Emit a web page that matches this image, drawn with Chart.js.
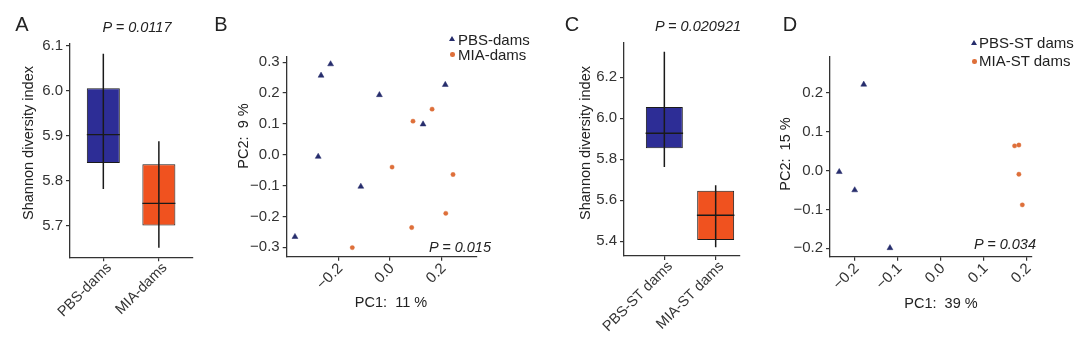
<!DOCTYPE html>
<html>
<head>
<meta charset="utf-8">
<script src="https://cdn.jsdelivr.net/npm/chart.js@4"></script>
<style>
	body { margin: 0; background: #fff; }
	#page { position: relative; width: 1080px; height: 338px; overflow: hidden; background: #fff;
		font-family: "Liberation Sans", Arial, sans-serif; color: #222; }
	#page canvas { position: absolute; top: 0; }
	.txt { position: absolute; white-space: pre; height: 20px; line-height: 20px; }
	.mark { position: absolute; }
</style>
</head>
<body>
<div id="page">
	<canvas id="chartA" width="210" height="338" style="left:0px"></canvas>
	<canvas id="chartB" width="310" height="338" style="left:210px"></canvas>
	<canvas id="chartC" width="220" height="338" style="left:540px"></canvas>
	<canvas id="chartD" width="320" height="338" style="left:760px"></canvas>
</div>
<script>
// ---- data ----

// A: Shannon diversity, dams
const groupsA = ['PBS-dams', 'MIA-dams'];
const whiskerLowA = [5.781, 5.650];
const q1A = [5.839, 5.700];
const medianA = [5.902, 5.749];
const q3A = [6.005, 5.836];
const whiskerHighA = [6.082, 5.887];
const yTicksA = [5.7, 5.8, 5.9, 6.0, 6.1];

// B: PCoA, dams
const pbsXB = [-0.230, -0.267, -0.041, 0.214, 0.128, -0.278, -0.113, -0.368];
const pbsYB = [0.294, 0.257, 0.194, 0.227, 0.099, -0.006, -0.103, -0.266];
const miaXB = [0.163, 0.089, 0.008, 0.244, 0.365, 0.216, 0.084, -0.146];
const miaYB = [0.148, 0.109, -0.040, -0.064, -0.100, -0.190, -0.236, -0.301];
const xTicksB = [-0.2, 0.0, 0.2];
const yTicksB = [-0.3, -0.2, -0.1, 0.0, 0.1, 0.2, 0.3];

// C: Shannon diversity, ST dams
const groupsC = ['PBS-ST dams', 'MIA-ST dams'];
const whiskerLowC = [5.762, 5.371];
const q1C = [5.854, 5.406];
const medianC = [5.927, 5.527];
const q3C = [6.055, 5.647];
const whiskerHighC = [6.325, 5.673];
const yTicksC = [5.4, 5.6, 5.8, 6.0, 6.2];

// D: PCoA, ST dams
const pbsXD = [-0.179, -0.236, -0.200, -0.118];
const pbsYD = [0.222, -0.003, -0.050, -0.199];
const miaXD = [0.172, 0.182, 0.182, 0.190];
const miaYD = [0.064, 0.066, -0.009, -0.088];
const xTicksD = [-0.2, -0.1, 0.0, 0.1, 0.2];
const yTicksD = [-0.2, -0.1, 0.0, 0.1, 0.2];

// ---- styling ----
const FONT = '"Liberation Sans", Arial, sans-serif';
const INK = '#333';
const DARK = '#1a1a1a';
const BOX_COLORS = ['#2d2d96', '#f0521f'];
const PBS_POINT = '#262d6c';
const MIA_POINT = '#de6f3a';

const minusFmt = (v) => v.toFixed(1).replace('-', '\u2212');

// linear axis drawn ggplot-like: axis line, short outward ticks, no grid
function axis(min, max, tickValues, fmt, fitSize, isX, isCategory) {
	return {
		type: 'linear',
		min: min,
		max: max,
		bounds: 'data',
		offset: false,
		afterBuildTicks: (s) => { s.ticks = tickValues.map((v) => ({ value: v })); },
		afterFit: (s) => { if (isX) { s.height = fitSize; } else { s.width = fitSize; } },
		ticks: {
			autoSkip: false,
			color: INK,
			font: { family: FONT, size: isCategory ? 14.5 : 15 },
			padding: isCategory ? -2 : (isX ? -1 : 3),
			labelOffset: isCategory ? 6 : (isX ? 2 : 0),
			minRotation: isX ? 45 : 0,
			maxRotation: isX ? 45 : 0,
			callback: fmt
		},
		grid: { display: true, offset: false, drawOnChartArea: false, drawTicks: true,
			tickLength: 4, color: INK, lineWidth: 1.2 },
		border: { display: true, color: INK, width: 1.3 }
	};
}

function commonOptions(padding) {
	return {
		responsive: false,
		animation: false,
		layout: { padding: padding },
		plugins: { legend: { display: false }, tooltip: { enabled: false } }
	};
}

// box plot from floating bars (box, whisker) and a line-style point (median)
function boxChart(id, groups, lo, q1, med, q3, hi, cfg) {
	const xs = groups.map((g, i) => i + 1);
	const options = commonOptions(cfg.padding);
	options.scales = {
		x: axis(cfg.xMin, cfg.xMax, xs, (v) => groups[Math.round(v) - 1], cfg.xFit, true, true),
		y: axis(cfg.yMin, cfg.yMax, cfg.yTicks, (v) => v.toFixed(1), cfg.yFit, false, false)
	};
	return new Chart(document.getElementById(id), {
		type: 'bar',
		data: {
			datasets: [
				{
					type: 'scatter',
					data: xs.map((x, i) => ({ x: x, y: med[i] })),
					pointStyle: 'line',
					radius: cfg.boxWidth / 2,
					hoverRadius: cfg.boxWidth / 2,
					borderColor: DARK,
					borderWidth: 1.3
				},
				{
					data: xs.map((x, i) => ({ x: x, y: [lo[i], hi[i]] })),
					grouped: false,
					maxBarThickness: 1.5,
					backgroundColor: DARK,
					borderWidth: 0
				},
				{
					data: xs.map((x, i) => ({ x: x, y: [q1[i], q3[i]] })),
					grouped: false,
					maxBarThickness: cfg.boxWidth,
					backgroundColor: BOX_COLORS,
					borderColor: DARK,
					borderWidth: 1,
					borderSkipped: false
				}
			]
		},
		options: options
	});
}

function pcoaChart(id, pbsX, pbsY, miaX, miaY, cfg) {
	const options = commonOptions(cfg.padding);
	options.scales = {
		x: axis(cfg.xMin, cfg.xMax, cfg.xTicks, minusFmt, cfg.xFit, true, false),
		y: axis(cfg.yMin, cfg.yMax, cfg.yTicks, minusFmt, cfg.yFit, false, false)
	};
	return new Chart(document.getElementById(id), {
		type: 'scatter',
		data: {
			datasets: [
				{
					label: 'PBS',
					data: pbsX.map((x, i) => ({ x: x, y: pbsY[i] })),
					pointStyle: 'triangle',
					radius: 3.4,
					backgroundColor: PBS_POINT,
					borderColor: PBS_POINT,
					borderWidth: 0.5,
					clip: false
				},
				{
					label: 'MIA',
					data: miaX.map((x, i) => ({ x: x, y: miaY[i] })),
					pointStyle: 'circle',
					radius: 2.2,
					backgroundColor: MIA_POINT,
					borderColor: 'rgba(222,111,58,0.35)',
					borderWidth: 1,
					clip: false
				}
			]
		},
		options: options
	});
}

boxChart('chartA', groupsA, whiskerLowA, q1A, medianA, q3A, whiskerHighA, {
	padding: { top: 43.3, right: 12, left: 0, bottom: 0 },
	xMin: 0.4, xMax: 2.6, yMin: 5.629, yMax: 6.105, yTicks: yTicksA,
	xFit: 80.7, yFit: 70, boxWidth: 33
});

pcoaChart('chartB', pbsXB, pbsYB, miaXB, miaYB, {
	padding: { top: 56.7, right: 43.3, left: 0, bottom: 0 },
	xMin: -0.400, xMax: 0.3357, yMin: -0.3305, yMax: 0.318,
	xTicks: xTicksB, yTicks: yTicksB, xFit: 81.3, yFit: 76.7
});

boxChart('chartC', groupsC, whiskerLowC, q1C, medianC, q3C, whiskerHighC, {
	padding: { top: 42.3, right: 13.3, left: 0, bottom: 0 },
	xMin: 0.214, xMax: 2.473, yMin: 5.328, yMax: 6.371, yTicks: yTicksC,
	xFit: 82, yFit: 84, boxWidth: 37.5
});

pcoaChart('chartD', pbsXD, pbsYD, miaXD, miaYD, {
	padding: { top: 56.7, right: 48.3, left: 0, bottom: 0 },
	xMin: -0.2575, xMax: 0.2118, yMin: -0.2215, yMax: 0.2936,
	xTicks: xTicksD, yTicks: yTicksD, xFit: 81.3, yFit: 70
});

// ---- overlay text: panel letters, p values, axis titles, legends ----
const page = document.getElementById('page');

// x, y is the centre of the text (or its left-middle when anchor is 'left');
// boxes are whole pixels so rotated text stays crisp
function addText(text, x, y, size, extra) {
	extra = extra || {};
	const el = document.createElement('div');
	el.className = 'txt';
	el.textContent = text;
	el.style.fontSize = size + 'px';
	el.style.top = (Math.round(y) - 10) + 'px';
	if (extra.anchor === 'left') {
		el.style.left = Math.round(x) + 'px';
	} else {
		el.style.width = '240px';
		el.style.textAlign = 'center';
		el.style.left = (Math.round(x) - 120) + 'px';
	}
	if (extra.rotate) { el.style.transform = 'rotate(-90deg)'; }
	if (extra.italic) { el.style.fontStyle = 'italic'; }
	page.appendChild(el);
}

function addMarker(shape, cx, cy, color) {
	const el = document.createElement('div');
	el.className = 'mark';
	if (shape === 'triangle') {
		el.style.left = (Math.round(cx) - 3) + 'px';
		el.style.top = (Math.round(cy) - 3) + 'px';
		el.style.width = '0px';
		el.style.height = '0px';
		el.style.borderLeft = '3px solid transparent';
		el.style.borderRight = '3px solid transparent';
		el.style.borderBottom = '5px solid ' + color;
	} else {
		el.style.left = (Math.round(cx) - 2) + 'px';
		el.style.top = (Math.round(cy) - 2) + 'px';
		el.style.width = '4.5px';
		el.style.height = '4.5px';
		el.style.borderRadius = '50%';
		el.style.background = color;
	}
	page.appendChild(el);
}

const panelLetters = ['A', 'B', 'C', 'D'];
const letterX = [21.5, 220.5, 572, 790];
panelLetters.forEach((l, i) => addText(l, letterX[i], 24, 20));

addText('P = 0.0117', 136.7, 26.7, 14.5, { italic: true });
addText('P = 0.020921', 698.3, 25.8, 14.5, { italic: true });
addText('P = 0.015', 459.7, 246.7, 14.5, { italic: true });
addText('P = 0.034', 1005, 244, 14.5, { italic: true });

addText('Shannon diversity index', 28, 142.5, 14.5, { rotate: true });
addText('PC2:  9 %', 243.3, 135.8, 14.5, { rotate: true });
addText('PC1:  11 %', 390.8, 301.5, 14.5);
addText('Shannon diversity index', 585, 143.3, 14.5, { rotate: true });
addText('PC2:  15 %', 785, 154.2, 14.5, { rotate: true });
addText('PC1:  39 %', 940.5, 302.7, 14.5);

addMarker('triangle', 452.3, 39, PBS_POINT);
addText('PBS-dams', 457.5, 39.5, 15, { anchor: 'left' });
addMarker('dot', 452.3, 54, MIA_POINT);
addText('MIA-dams', 457.5, 54.5, 15, { anchor: 'left' });

addMarker('triangle', 974.3, 42.7, PBS_POINT);
addText('PBS-ST dams', 979, 43, 15, { anchor: 'left' });
addMarker('dot', 974.3, 61, MIA_POINT);
addText('MIA-ST dams', 979, 61.3, 15, { anchor: 'left' });
</script>
</body>
</html>
